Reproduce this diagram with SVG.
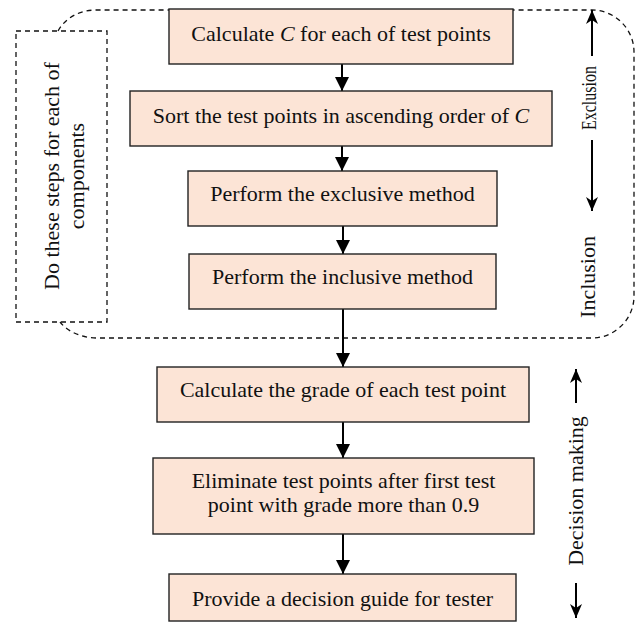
<svg xmlns="http://www.w3.org/2000/svg" width="640" height="623" viewBox="0 0 640 623">
<defs>
<style>
.box{fill:#FCE4D6;stroke:#222;stroke-width:1.4}
.t{font-family:"Liberation Serif","Times New Roman",serif;font-size:22px;fill:#111;text-anchor:middle}
.dash{fill:none;stroke:#111;stroke-width:1.3;stroke-dasharray:5,4}
.con{stroke:#000;stroke-width:2;fill:none}
.side{stroke:#000;stroke-width:2;fill:none}
</style>
<marker id="ah" viewBox="0 0 14 14" refX="14" refY="7" markerWidth="14" markerHeight="14" markerUnits="userSpaceOnUse" orient="auto">
<path d="M0,0 L14,7 L0,14 Z" fill="#000"/>
</marker>
<marker id="sh" viewBox="0 0 14 12" refX="14" refY="6" markerWidth="14" markerHeight="12" markerUnits="userSpaceOnUse" orient="auto">
<path d="M0,0 L14,6 L0,12 L4,6 Z" fill="#000"/>
</marker>
</defs>
<rect width="640" height="623" fill="#fff"/>

<g id="loop-region">
<path class="dash" d="M58,31 C66,17 80,10 97,10 L592,10 C615,10 634,29 634,52 L634,296 C634,319 615,338 592,338 L97,338 C82,338 68,332 60,322"/>
</g>

<g id="note">
<rect class="dash" x="16" y="31" width="91" height="291" fill="#fff"/>
<text class="t" transform="translate(59,176) rotate(-90)">Do these steps for each of</text>
<text class="t" transform="translate(84,176) rotate(-90)">components</text>
</g>

<g id="connectors">
<line class="con" x1="342" y1="64" x2="342" y2="91" marker-end="url(#ah)"/>
<line class="con" x1="342" y1="146" x2="342" y2="171" marker-end="url(#ah)"/>
<line class="con" x1="343" y1="226" x2="343" y2="254" marker-end="url(#ah)"/>
<line class="con" x1="343" y1="309" x2="343" y2="367" marker-end="url(#ah)"/>
<line class="con" x1="343" y1="422" x2="343" y2="458" marker-end="url(#ah)"/>
<line class="con" x1="343" y1="534" x2="343" y2="574" marker-end="url(#ah)"/>
</g>

<g id="n1">
<rect class="box" x="169" y="9" width="344" height="55"/>
<text class="t" x="341" y="41">Calculate <tspan font-style="italic">C</tspan> for each of test points</text>
</g>
<g id="n2">
<rect class="box" x="130" y="91" width="422" height="55"/>
<text class="t" x="341" y="123">Sort the test points in ascending order of <tspan font-style="italic">C</tspan></text>
</g>
<g id="n3">
<rect class="box" x="188" y="171" width="309" height="55"/>
<text class="t" x="342.5" y="201">Perform the exclusive method</text>
</g>
<g id="n4">
<rect class="box" x="189" y="254" width="307" height="55"/>
<text class="t" x="342.5" y="284">Perform the inclusive method</text>
</g>
<g id="n5">
<rect class="box" x="157" y="367" width="372" height="55"/>
<text class="t" x="343" y="397">Calculate the grade of each test point</text>
</g>
<g id="n6">
<rect class="box" x="153" y="458" width="381" height="76"/>
<text class="t" x="343.5" y="488">Eliminate test points after first test</text>
<text class="t" x="343.5" y="512">point with grade more than 0.9</text>
</g>
<g id="n7">
<rect class="box" x="169" y="574" width="347" height="47"/>
<text class="t" x="342.5" y="606">Provide a decision guide for tester</text>
</g>

<g id="side-labels">
<line class="side" x1="592" y1="56" x2="592" y2="10" marker-end="url(#sh)"/>
<text class="t" transform="translate(596,98) rotate(-90)" textLength="64" lengthAdjust="spacingAndGlyphs">Exclusion</text>
<line class="side" x1="592" y1="140" x2="592" y2="211" marker-end="url(#sh)"/>
<text class="t" transform="translate(595,277) rotate(-90)">Inclusion</text>
<line class="side" x1="576" y1="403" x2="576" y2="369" marker-end="url(#sh)"/>
<text class="t" transform="translate(583,491) rotate(-90)">Decision making</text>
<line class="side" x1="576" y1="583" x2="576" y2="618" marker-end="url(#sh)"/>
</g>
</svg>
